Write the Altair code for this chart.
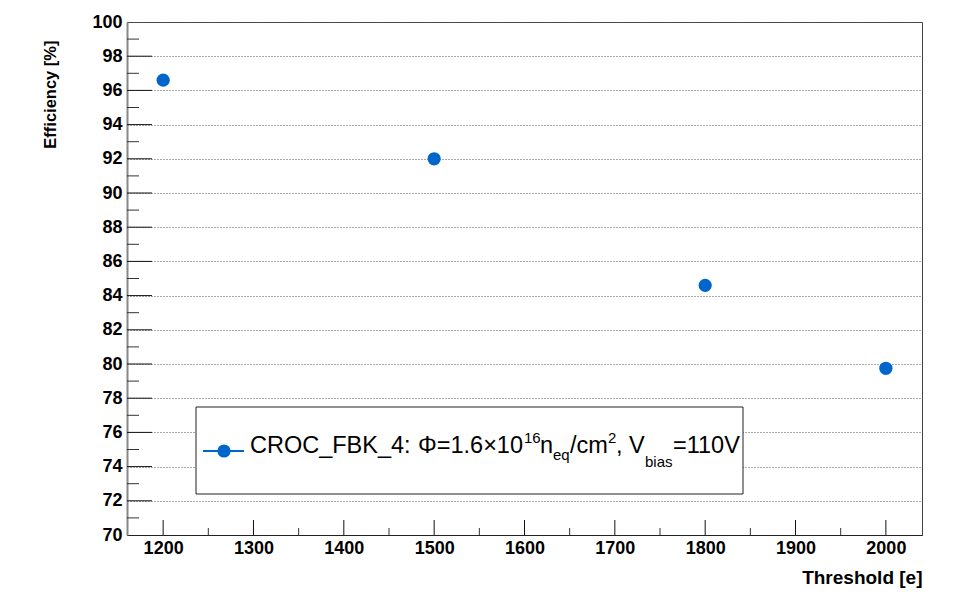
import altair as alt
import pandas as pd

# ---- data ----
threshold = [1200, 1500, 1800, 2000]
efficiency = [96.6, 92.0, 84.6, 79.75]

x_major = [1200, 1300, 1400, 1500, 1600, 1700, 1800, 1900, 2000]
x_minor = [1250, 1350, 1450, 1550, 1650, 1750, 1850, 1950]
y_labels = [70, 72, 74, 76, 78, 80, 82, 84, 86, 88, 90, 92, 94, 96, 98, 100]
y_major = [72, 74, 76, 78, 80, 82, 84, 86, 88, 90, 92, 94, 96, 98]
y_minor = [71, 73, 75, 77, 79, 81, 83, 85, 87, 89, 91, 93, 95, 97, 99]

legend_parts = ["CROC_FBK_4:", "Φ=1.6×10", "16", "n", "eq", "/cm", "2", ", V", "bias", "=110V"]
legend_kinds = ["main", "main", "sup", "main", "sub", "main", "sup", "main", "sub2", "main"]

FONT = "Liberation Sans"
BLUE = "#0066cc"
XDOM = [1160, 2040]
YDOM = [70, 100]

xs = alt.Scale(domain=XDOM, nice=False, zero=False)
ys = alt.Scale(domain=YDOM, nice=False, zero=False)

pts = pd.DataFrame({"threshold": threshold, "efficiency": efficiency})
one = pd.DataFrame({"a": [0]})

points = alt.Chart(pts).mark_point(filled=True, shape="circle", size=175, color=BLUE, opacity=1).encode(
    x=alt.X("threshold:Q", scale=xs, axis=alt.Axis(
        values=x_major, tickCount=30, format="d", ticks=False, grid=False,
        labelFont=FONT, labelFontWeight="bold", labelFontSize=18, labelColor="black",
        labelPadding=4, labelOverlap=False, labelFlush=False,
        domainColor="#222", domainWidth=1,
        title="Threshold [e]", titleFont=FONT, titleFontWeight="bold", titleFontSize=19,
        titleColor="black", titleAlign="right", titleBaseline="alphabetic",
        titleX=795, titleY=48)),
    y=alt.Y("efficiency:Q", scale=ys, axis=alt.Axis(
        values=y_labels, tickCount=30, format="d", ticks=False, grid=True,
        gridDash=[1, 2], gridColor="#555", gridWidth=1,
        labelFont=FONT, labelFontWeight="bold", labelFontSize=18, labelColor="black",
        labelPadding=5, labelOverlap=False, labelFlush=False,
        domainColor="#888", domainWidth=2,
        title="Efficiency [%]", titleFont=FONT, titleFontWeight="bold", titleFontSize=16.5,
        titleColor="black", titleAngle=270, titleAlign="right", titleBaseline="alphabetic",
        titleX=-72, titleY=18)),
)

# inside ticks (ROOT style)
ymaj = alt.Chart(pd.DataFrame({"v": y_major})).mark_rule(color="#111", strokeWidth=1).encode(
    y=alt.Y("v:Q", scale=ys), x=alt.value(0), x2=alt.value(25))
ymin = alt.Chart(pd.DataFrame({"v": y_minor})).mark_rule(color="#333", strokeWidth=1).encode(
    y=alt.Y("v:Q", scale=ys), x=alt.value(0), x2=alt.value(12))
xmaj = alt.Chart(pd.DataFrame({"v": x_major})).mark_rule(color="#111", strokeWidth=1).encode(
    x=alt.X("v:Q", scale=xs), y=alt.value(513), y2=alt.value(498))
xmin = alt.Chart(pd.DataFrame({"v": x_minor})).mark_rule(color="#333", strokeWidth=1).encode(
    x=alt.X("v:Q", scale=xs), y=alt.value(513), y2=alt.value(506))

# legend box
box = alt.Chart(one).mark_rect(fill="white", stroke="#222", strokeWidth=1).encode(
    x=alt.value(69), x2=alt.value(616), y=alt.value(385), y2=alt.value(472))
leg_line = alt.Chart(one).mark_rule(color=BLUE, strokeWidth=2).encode(
    x=alt.value(76), x2=alt.value(117), y=alt.value(429))
leg_pt = alt.Chart(one).mark_point(filled=True, shape="circle", size=175, color=BLUE, opacity=1).encode(
    x=alt.value(97), y=alt.value(429))

starts = [123, 291, 397, 413, 426, 443, 481, 489, 518, 546]
sizes = {"main": 23.5, "sup": 15, "sub": 15, "sub2": 15}
bases = {"main": 431, "sup": 421, "sub": 438, "sub2": 445}
texts = []
for part, kind, sx in zip(legend_parts, legend_kinds, starts):
    texts.append(alt.Chart(one).mark_text(
        font=FONT, fontSize=sizes[kind], align="left", baseline="alphabetic", color="black"
    ).encode(x=alt.value(sx), y=alt.value(bases[kind]), text=alt.value(part)))

chart = alt.layer(points, ymaj, ymin, xmaj, xmin, box, leg_line, leg_pt, *texts).properties(
    width=795, height=513,
    autosize=alt.AutoSizeParams(type="none"),
    padding={"left": 127, "top": 22, "right": 39, "bottom": 70},
    background="white",
).configure_view(stroke="#444", strokeWidth=1)

chart.save("out.html", embed_options={"renderer": "svg", "actions": False})
